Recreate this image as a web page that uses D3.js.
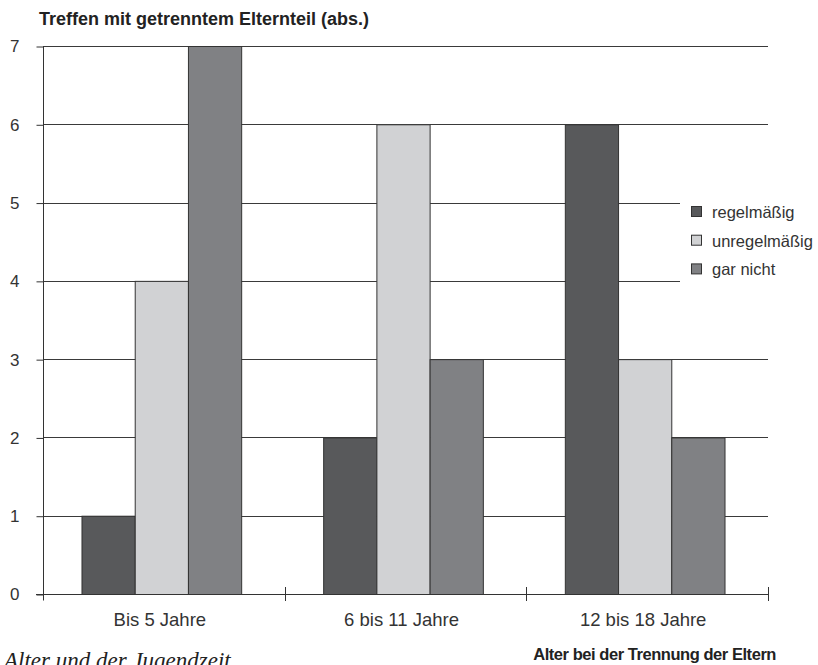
<!DOCTYPE html>
<html>
<head>
<meta charset="utf-8">
<script src="https://cdn.jsdelivr.net/npm/d3@7"></script>
<style>
  html, body { margin: 0; padding: 0; background: #fff; }
  svg { display: block; }
</style>
</head>
<body>
<svg id="chart" width="818" height="665"></svg>
<script>
// Age at separation of the parents (x categories)
const categories = ["Bis 5 Jahre", "6 bis 11 Jahre", "12 bis 18 Jahre"];
// Contact frequency with the separated parent (series)
const seriesNames = ["regelmäßig", "unregelmäßig", "gar nicht"];
const regelmaessig = [1, 2, 6];
const unregelmaessig = [4, 6, 3];
const garNicht = [7, 3, 2];
const yTicks = [0, 1, 2, 3, 4, 5, 6, 7];

const seriesValues = [regelmaessig, unregelmaessig, garNicht];
const colors = ["#58595b", "#d1d2d4", "#808184"];
const font = "'Liberation Sans', Arial, sans-serif";

const svg = d3.select("#chart");

const plotLeft = 43, plotRight = 768, plotTop = 46, plotBottom = 594;

const x = d3.scaleBand().domain(categories).range([plotLeft, plotRight]).paddingInner(0).paddingOuter(0);
const x1 = d3.scaleBand().domain(seriesNames).range([0, x.bandwidth()]).paddingInner(0).paddingOuter(0.77);
const y = d3.scaleLinear().domain([0, 7]).range([plotBottom, plotTop]);

// Horizontal grid lines
svg.append("g")
  .selectAll("line")
  .data(yTicks.filter(d => d > 0))
  .join("line")
  .attr("x1", plotLeft).attr("x2", plotRight)
  .attr("y1", d => Math.round(y(d)) + 0.5).attr("y2", d => Math.round(y(d)) + 0.5)
  .attr("stroke", "#3a3a3a").attr("stroke-width", 1);

// Bars
const groups = svg.append("g")
  .selectAll("g")
  .data(categories)
  .join("g")
  .attr("transform", d => `translate(${x(d) - 2.5},0)`);

groups.selectAll("rect")
  .data((c, i) => seriesNames.map((s, j) => ({ s, j, v: seriesValues[j][i] })))
  .join("rect")
  .attr("x", d => x1(d.s) + 0.5)
  .attr("width", x1.bandwidth())
  .attr("y", d => y(d.v) + 0.5)
  .attr("height", d => y(0) - y(d.v))
  .attr("fill", d => colors[d.j])
  .attr("stroke", "#333")
  .attr("stroke-width", 1);

// Y axis
const yAxis = d3.axisLeft(y).tickValues(yTicks).tickSize(7).tickFormat(d3.format("d"));
const gy = svg.append("g").attr("transform", `translate(${plotLeft + 0.5},0.5)`).call(yAxis);
gy.select(".domain").attr("stroke", "#333").attr("d", `M0,${plotTop}V${plotBottom + 6}`);
gy.selectAll(".tick line").attr("stroke", "#333");
gy.selectAll(".tick text")
  .attr("font-family", font).attr("font-size", 17).attr("fill", "#333").attr("x", -24);

// X axis: baseline with ticks at the category boundaries
const gx = svg.append("g");
gx.append("line")
  .attr("x1", plotLeft - 7).attr("x2", plotRight)
  .attr("y1", plotBottom + 0.5).attr("y2", plotBottom + 0.5)
  .attr("stroke", "#333");
const boundaries = categories.map(c => x(c)).concat([plotRight]);
gx.selectAll("line.b")
  .data(boundaries.slice(1))
  .join("line")
  .attr("class", "b")
  .attr("x1", d => Math.round(d) + 0.5).attr("x2", d => Math.round(d) + 0.5)
  .attr("y1", plotBottom - 7).attr("y2", plotBottom + 7)
  .attr("stroke", "#333");
gx.selectAll("text")
  .data(categories)
  .join("text")
  .attr("x", d => x(d) + x.bandwidth() / 2 - 4)
  .attr("y", 626)
  .attr("text-anchor", "middle")
  .attr("font-family", font).attr("font-size", 18.5).attr("fill", "#333")
  .text(d => d);

// Legend
const legend = svg.append("g");
legend.append("rect")
  .attr("x", 680).attr("y", 194).attr("width", 138).attr("height", 92)
  .attr("fill", "#fff");
const items = legend.selectAll("g")
  .data(seriesNames)
  .join("g")
  .attr("transform", (d, i) => `translate(691,${212 + i * 28.7})`);
items.append("rect")
  .attr("x", 0.5).attr("y", -5.5).attr("width", 10).attr("height", 10)
  .attr("fill", (d, i) => colors[i]).attr("stroke", "#333");
items.append("text")
  .attr("x", 21).attr("y", 6)
  .attr("font-family", font).attr("font-size", 16.5).attr("fill", "#333")
  .text(d => d);

// Axis titles
svg.append("text")
  .attr("x", 39).attr("y", 25)
  .attr("font-family", font).attr("font-size", 18).attr("font-weight", "bold").attr("fill", "#222")
  .text("Treffen mit getrenntem Elternteil (abs.)");
svg.append("text")
  .attr("x", 776).attr("y", 660)
  .attr("text-anchor", "end")
  .attr("font-family", font).attr("font-size", 16.5).attr("font-weight", "bold").attr("fill", "#222")
  .attr("letter-spacing", -0.45)
  .text("Alter bei der Trennung der Eltern");

// Running text below the figure, cut at the page edge
svg.append("text")
  .attr("x", 4).attr("y", 668)
  .attr("font-family", "'Liberation Serif', 'DejaVu Serif', serif")
  .attr("font-style", "italic").attr("font-size", 23).attr("fill", "#222")
  .text("Alter und der Jugendzeit");
</script>
</body>
</html>
